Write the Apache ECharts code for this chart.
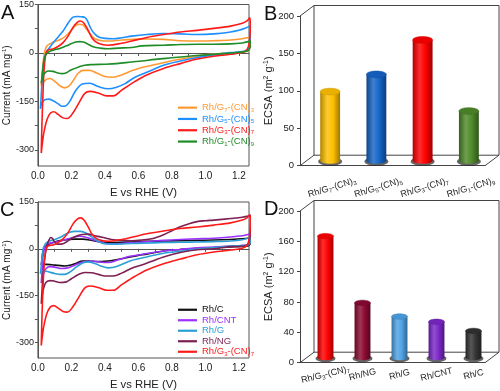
<!DOCTYPE html>
<html><head><meta charset="utf-8">
<script src="https://cdn.jsdelivr.net/npm/echarts@6/dist/echarts.min.js"></script>
<style>html,body{margin:0;padding:0;background:#fff}#c{width:500px;height:391px}</style>
</head><body><div id="c"></div>
<script>
// ---------- tick labels ----------
const cvXLabels = [0, 0.2, 0.4, 0.6, 0.8, 1.0, 1.2];
const cvXTicks = [0, 0.1, 0.2, 0.3, 0.4, 0.5, 0.6, 0.7, 0.8, 0.9, 1.0, 1.1, 1.2];
const cvYLabels = [-300, -150, 0, 150];
const cvYTicks = [-300, -225, -150, -75, 0, 75, 150];
const ecsaBTicks = [0, 50, 100, 150, 200];
const ecsaDTicks = [0, 40, 80, 120, 160, 200];

// ---------- panel A / C : CV loops [E (V), current (mA/mg)] ----------
const rhG7CN3 = [[0.02,-102],[0.025,-70],[0.03,-35],[0.037,-5],[0.045,12],[0.055,22],[0.07,28],[0.085,32],[0.11,37],[0.14,43],[0.17,54],[0.2,70],[0.225,85],[0.25,89],[0.27,86],[0.29,74],[0.31,60],[0.34,44],[0.38,38],[0.42,37],[0.5,40],[0.56,42],[0.65,43],[0.75,42],[0.85,38],[0.95,37],[1.05,38],[1.15,40],[1.22,44],[1.255,48],[1.268,50],
  [1.27,35],[1.265,15],[1.25,5],[1.2,1],[1.1,-2],[1.0,-6],[0.9,-15],[0.8,-24],[0.7,-36],[0.62,-45],[0.56,-55],[0.5,-68],[0.45,-75],[0.4,-73],[0.35,-62],[0.31,-54],[0.27,-54],[0.24,-63],[0.21,-86],[0.185,-103],[0.16,-108],[0.135,-103],[0.11,-92],[0.085,-82],[0.07,-79],[0.055,-81],[0.04,-86],[0.03,-93],[0.02,-102]];
const rhG5CN5 = [[0.015,-173],[0.02,-130],[0.025,-85],[0.032,-40],[0.04,-15],[0.05,3],[0.065,14],[0.08,24],[0.1,37],[0.125,52],[0.15,68],[0.17,84],[0.19,100],[0.21,111],[0.235,113],[0.26,112],[0.28,110],[0.295,100],[0.31,82],[0.33,64],[0.36,50],[0.4,45],[0.45,44],[0.5,47],[0.56,52],[0.65,57],[0.75,60],[0.85,59],[0.95,57],[1.05,59],[1.15,65],[1.2,70],[1.24,77],[1.265,83],
  [1.268,60],[1.262,25],[1.25,10],[1.22,4],[1.15,1],[1.05,-6],[0.95,-14],[0.85,-25],[0.75,-38],[0.65,-60],[0.58,-75],[0.52,-95],[0.47,-106],[0.42,-111],[0.36,-104],[0.31,-94],[0.265,-96],[0.225,-117],[0.19,-150],[0.165,-164],[0.145,-165],[0.12,-157],[0.09,-148],[0.065,-143],[0.045,-144],[0.03,-150],[0.02,-160],[0.015,-173]];
const rhG3CN7 = [[0.02,-310],[0.024,-220],[0.03,-130],[0.036,-60],[0.045,-10],[0.055,6],[0.07,11],[0.09,12],[0.12,20],[0.15,32],[0.18,52],[0.21,80],[0.235,95],[0.255,99],[0.275,92],[0.3,70],[0.325,45],[0.36,30],[0.42,24],[0.5,30],[0.56,37],[0.65,48],[0.75,57],[0.85,65],[0.95,70],[1.05,76],[1.15,83],[1.22,92],[1.25,100],[1.265,109],
  [1.268,85],[1.262,35],[1.25,12],[1.22,2],[1.15,-4],[1.05,-10],[0.95,-19],[0.85,-33],[0.75,-48],[0.65,-68],[0.58,-88],[0.5,-115],[0.45,-133],[0.41,-133],[0.36,-124],[0.31,-119],[0.28,-125],[0.25,-150],[0.21,-185],[0.175,-203],[0.15,-201],[0.12,-190],[0.095,-182],[0.075,-186],[0.055,-205],[0.04,-235],[0.03,-265],[0.02,-310]];
const rhG1CN9 = [[0.02,-94],[0.025,-70],[0.03,-45],[0.037,-20],[0.045,-8],[0.06,2],[0.08,7],[0.1,10],[0.13,14],[0.17,22],[0.2,29],[0.225,34],[0.25,35],[0.27,34],[0.3,27],[0.33,19],[0.37,15],[0.42,13],[0.48,15],[0.56,17],[0.62,22],[0.75,24],[0.85,26],[0.95,27],[1.05,27],[1.15,28],[1.22,31],[1.255,35],[1.268,38],
  [1.27,28],[1.262,12],[1.245,5],[1.2,2],[1.1,-2],[1.0,-6],[0.9,-10],[0.8,-15],[0.7,-20],[0.62,-25],[0.56,-28],[0.47,-33],[0.4,-35],[0.33,-36],[0.28,-38],[0.24,-44],[0.2,-52],[0.17,-61],[0.145,-64],[0.12,-62],[0.09,-57],[0.065,-56],[0.045,-60],[0.03,-72],[0.02,-94]];
const rhC = [[0.02,-52],[0.025,-30],[0.03,-10],[0.04,3],[0.05,10],[0.07,16],[0.1,22],[0.14,27],[0.18,30],[0.22,31],[0.27,31],[0.31,28],[0.36,23],[0.42,20],[0.5,21],[0.56,22],[0.65,24],[0.75,25],[0.85,26],[0.95,27],[1.05,28],[1.15,30],[1.22,32],[1.255,34],[1.268,36],
  [1.27,25],[1.262,12],[1.245,8],[1.2,7],[1.15,6],[1.05,4],[0.95,2],[0.85,-2],[0.75,-7],[0.65,-17],[0.6,-21],[0.55,-26],[0.46,-36],[0.4,-40],[0.36,-41],[0.3,-39],[0.265,-39],[0.23,-46],[0.19,-53],[0.16,-55],[0.12,-53],[0.08,-51],[0.05,-50],[0.03,-50],[0.02,-52]];
const rhCNT = [[0.02,-110],[0.025,-70],[0.03,-25],[0.04,2],[0.05,13],[0.07,18],[0.1,21],[0.14,26],[0.18,32],[0.22,38],[0.25,40],[0.28,38],[0.32,31],[0.37,22],[0.42,16],[0.5,17],[0.58,20],[0.66,23],[0.75,27],[0.85,30],[0.95,32],[1.05,34],[1.15,38],[1.22,42],[1.255,46],[1.268,49],
  [1.27,35],[1.262,18],[1.245,12],[1.2,10],[1.15,9],[1.05,6],[0.95,3],[0.85,-2],[0.75,-7],[0.65,-15],[0.6,-20],[0.55,-24],[0.48,-35],[0.42,-44],[0.38,-43],[0.33,-40],[0.28,-41],[0.24,-48],[0.2,-57],[0.17,-62],[0.14,-63],[0.11,-60],[0.08,-57],[0.06,-58],[0.045,-66],[0.035,-78],[0.025,-95],[0.02,-110]];
const rhG = [[0.015,-80],[0.02,-55],[0.025,-25],[0.032,2],[0.04,12],[0.05,19],[0.07,25],[0.1,30],[0.13,36],[0.16,45],[0.19,53],[0.22,56],[0.25,56],[0.28,52],[0.31,42],[0.34,31],[0.37,21],[0.4,16],[0.47,15],[0.56,17],[0.62,18],[0.75,20],[0.85,21],[0.95,22],[1.05,23],[1.15,25],[1.22,29],[1.255,35],[1.268,40],
  [1.27,28],[1.262,15],[1.245,11],[1.2,10],[1.15,9],[1.05,4],[0.95,-1],[0.85,-8],[0.75,-14],[0.65,-26],[0.6,-32],[0.55,-39],[0.47,-57],[0.42,-61],[0.38,-56],[0.34,-47],[0.3,-42],[0.27,-45],[0.23,-58],[0.19,-75],[0.16,-82],[0.13,-82],[0.1,-79],[0.07,-75],[0.05,-72],[0.035,-72],[0.025,-76],[0.015,-80]];
const rhNG = [[0.02,-176],[0.025,-130],[0.03,-90],[0.037,-45],[0.045,-15],[0.055,12],[0.065,27],[0.076,36],[0.087,33],[0.1,22],[0.115,15],[0.14,15],[0.17,22],[0.2,33],[0.235,42],[0.265,46],[0.3,47],[0.34,42],[0.39,36],[0.44,30],[0.5,27],[0.56,26],[0.62,28],[0.68,32],[0.75,45],[0.8,58],[0.85,71],[0.9,80],[0.95,87],[1.0,90],[1.05,92],[1.15,97],[1.22,101],[1.255,105],[1.268,107],
  [1.27,80],[1.265,35],[1.25,12],[1.22,8],[1.15,7],[1.05,0],[0.95,-3],[0.85,-12],[0.75,-26],[0.68,-40],[0.62,-52],[0.56,-62],[0.5,-78],[0.45,-87],[0.4,-87],[0.36,-82],[0.32,-77],[0.28,-76],[0.24,-83],[0.2,-96],[0.17,-106],[0.13,-108],[0.1,-104],[0.076,-102],[0.06,-103],[0.045,-110],[0.035,-125],[0.027,-145],[0.02,-176]];

// ---------- panel B / D : ECSA bars ----------
const ecsaBCats = ['Rh/G7-(CN)3', 'Rh/G5-(CN)5', 'Rh/G3-(CN)7', 'Rh/G1-(CN)9'];
const ecsaBVals = [92, 115, 161, 66];
const ecsaDCats = ['Rh/G3-(CN)7', 'Rh/NG', 'Rh/G', 'Rh/CNT', 'Rh/C'];
const ecsaDVals = [160, 72, 54, 47, 35];

// ---------- styling ----------
const F = '"Liberation Sans", Arial, sans-serif';
const colA = {'Rh/G7-(CN)3':'#FF9A33','Rh/G5-(CN)5':'#1E8FFF','Rh/G3-(CN)7':'#FF1A1A','Rh/G1-(CN)9':'#1F8C28'};
const colC = {'Rh/C':'#111111','Rh/CNT':'#9B30FF','Rh/G':'#2A9FD6','Rh/NG':'#7D1F52','Rh/G3-(CN)7':'#FF1A1A'};
const barColB = ['#FFC000', '#1565C8', '#FF0000', '#4F8A2A'];
const barColD = ['#FF0000', '#8B0A32', '#4FA3E6', '#7B28C8', '#333333'];
const DEPTH = [14, -10.5];
const AX = '#555';

function toRich(n) { return n.replace(/G(\d)-\(CN\)(\d)/, (m, a, b) => 'G{s|' + a + '}-(CN){s|' + b + '}'); }
function shade(hex, f) {
  const n = parseInt(hex.slice(1), 16);
  let r = n >> 16, g = (n >> 8) & 255, b = n & 255;
  if (f < 0) { r *= 1 + f; g *= 1 + f; b *= 1 + f; }
  else { r += (255 - r) * f; g += (255 - g) * f; b += (255 - b) * f; }
  return 'rgb(' + (r | 0) + ',' + (g | 0) + ',' + (b | 0) + ')';
}
const subRich = { s: { fontSize: 6, fontFamily: F, padding: [5, 0, 0, 0] } };

function cvXAxis(grid) {
  return { type: 'value', gridIndex: grid, min: 0, max: 1.26,
    name: 'E vs RHE (V)', nameLocation: 'middle', nameGap: 21,
    nameTextStyle: { fontSize: 11.3, fontFamily: F, color: '#222' },
    axisLine: { lineStyle: { color: AX } }, splitLine: { show: false },
    axisTick: { customValues: cvXTicks, length: 3, lineStyle: { color: AX } },
    axisLabel: { customValues: cvXLabels, formatter: v => v.toFixed(1), fontSize: 10, fontFamily: F, color: '#222', margin: 5 } };
}
function cvYAxis(grid) {
  return { type: 'value', gridIndex: grid, min: -350, max: 150,
    name: '{a|Current (mA mg}{p|-1}{a|)}', nameLocation: 'middle', nameGap: 22,
    nameTextStyle: { fontSize: 10, fontFamily: F, color: '#222', rich: { a: { fontSize: 10, fontFamily: F }, p: { fontSize: 6, fontFamily: F, padding: [0, 0, 6, 0] } } },
    axisLine: { lineStyle: { color: AX } }, splitLine: { show: false },
    axisTick: { customValues: cvYTicks, length: 3, lineStyle: { color: AX } },
    axisLabel: { customValues: cvYLabels, fontSize: 9, fontFamily: F, color: '#222', margin: 4 } };
}
function barXAxis(grid, cats) {
  return { type: 'category', gridIndex: grid, data: cats, axisLine: { lineStyle: { color: '#444' } },
    axisTick: { show: false }, axisLabel: { show: false } };
}
function barYAxis(grid, max, interval) {
  return { type: 'value', gridIndex: grid, min: 0, max: max, interval: interval,
    name: '{a|ECSA (m}{p|2}{a| g}{p|-1}{a|)}', nameLocation: 'middle', nameGap: 20,
    nameTextStyle: { fontSize: 11, fontFamily: F, color: '#222', rich: { a: { fontSize: 11, fontFamily: F }, p: { fontSize: 7, fontFamily: F, padding: [0, 0, 6, 0] } } },
    axisLine: { show: true, lineStyle: { color: '#444' } }, splitLine: { show: false },
    axisTick: { show: true, length: 3, lineStyle: { color: '#444' } },
    axisLabel: { fontSize: 9.5, fontFamily: F, color: '#222', margin: 6 } };
}
function frameRender(params, api) {
  const cs = params.coordSys, x = cs.x, y = cs.y, w = cs.width, h = cs.height, dx = DEPTH[0], dy = DEPTH[1];
  const st = { stroke: '#444', lineWidth: 1, fill: null };
  return { type: 'group', children: [
    { type: 'rect', shape: { x: x + dx, y: y + dy, width: w, height: h }, style: { stroke: '#444', lineWidth: 1, fill: null } },
    { type: 'line', shape: { x1: x, y1: y, x2: x + dx, y2: y + dy }, style: st },
    { type: 'line', shape: { x1: x, y1: y + h, x2: x + dx, y2: y + h + dy }, style: st },
    { type: 'line', shape: { x1: x + w, y1: y + h, x2: x + w + dx, y2: y + h + dy }, style: st }
  ] };
}
function makeCyl(colors, cats, ldx, ldy, rot) {
  return function (params, api) {
    const i = params.dataIndex;
    const top = api.coord([api.value(0), api.value(1)]);
    const base = api.coord([api.value(0), 0]);
    const band = api.size([1, 0])[0];
    const w = band * 0.43, ry = w * 0.17;
    const cx = top[0] + DEPTH[0] / 2, ty = top[1] + DEPTH[1] / 2, by = base[1] + DEPTH[1] / 2;
    const c = colors[i];
    const grad = new echarts.graphic.LinearGradient(0, 0, 1, 0, [
      { offset: 0, color: shade(c, -0.3) }, { offset: 0.35, color: shade(c, 0.18) },
      { offset: 0.65, color: c }, { offset: 1, color: shade(c, -0.38) }]);
    return { type: 'group', children: [
      { type: 'ellipse', shape: { cx: cx, cy: by + 1, rx: w / 2 + 2, ry: ry + 1 }, style: { fill: 'rgba(35,35,35,0.7)' } },
      { type: 'ellipse', shape: { cx: cx, cy: by, rx: w / 2, ry: ry }, style: { fill: grad } },
      { type: 'rect', shape: { x: cx - w / 2, y: ty, width: w, height: by - ty }, style: { fill: grad } },
      { type: 'ellipse', shape: { cx: cx, cy: ty, rx: w / 2, ry: ry }, style: { fill: shade(c, -0.08), stroke: shade(c, -0.2), lineWidth: 0.5 } },
      { type: 'text', x: base[0] + ldx, y: base[1] + ldy, rotation: rot * Math.PI / 180,
        style: { text: toRich(cats[i]), rich: subRich, fill: '#222', fontSize: 9, fontFamily: F, align: 'center', verticalAlign: 'middle' } }
    ] };
  };
}
function cvSeries(name, data, color, gi) {
  return { type: 'line', name: name, data: data, xAxisIndex: gi, yAxisIndex: gi, symbol: 'none', smooth: 0.35,
    lineStyle: { color: color, width: 1.6 }, itemStyle: { color: color }, z: 3 };
}
function legendCfg(cols, top, lh) {
  return { orient: 'vertical', left: 178, top: top, icon: 'rect', itemWidth: 19, itemHeight: 2.2, itemGap: 0, padding: 0,
    formatter: toRich, textStyle: { fontSize: 9.5, fontFamily: F, lineHeight: lh, rich: subRich },
    data: Object.keys(cols).map(n => ({ name: n, textStyle: { color: cols[n] } })) };
}

const chart = echarts.init(document.getElementById('c'), null, { renderer: 'canvas' });
chart.setOption({
  animation: false,
  backgroundColor: '#fff',
  grid: [
    { left: 35, top: 4, width: 214, height: 162, show: true, borderColor: AX, borderWidth: 1 },
    { left: 300, top: 16, width: 185, height: 149.7 },
    { left: 35, top: 202, width: 214, height: 161, show: true, borderColor: AX, borderWidth: 1 },
    { left: 300, top: 211, width: 185, height: 151.7 }
  ],
  xAxis: [cvXAxis(0), barXAxis(1, ecsaBCats), cvXAxis(2), barXAxis(3, ecsaDCats)],
  yAxis: [cvYAxis(0), barYAxis(1, 200, 50), cvYAxis(2), barYAxis(3, 200, 40)],
  legend: [legendCfg(colA, 102, 11.3), legendCfg(colC, 304.5, 10.5)],
  graphic: [
    { type: 'text', left: 1, top: 3, style: { text: 'A', fontSize: 20, fontFamily: F, fill: '#111' } },
    { type: 'text', left: 264, top: 4.5, style: { text: 'B', fontSize: 20, fontFamily: F, fill: '#111' } },
    { type: 'text', left: 0, top: 200.5, style: { text: 'C', fontSize: 20, fontFamily: F, fill: '#111' } },
    { type: 'text', left: 264, top: 199.5, style: { text: 'D', fontSize: 20, fontFamily: F, fill: '#111' } }
  ],
  series: [
    cvSeries('Rh/G7-(CN)3', rhG7CN3, colA['Rh/G7-(CN)3'], 0),
    cvSeries('Rh/G5-(CN)5', rhG5CN5, colA['Rh/G5-(CN)5'], 0),
    cvSeries('Rh/G3-(CN)7', rhG3CN7, colA['Rh/G3-(CN)7'], 0),
    cvSeries('Rh/G1-(CN)9', rhG1CN9, colA['Rh/G1-(CN)9'], 0),
    cvSeries('Rh/C', rhC, colC['Rh/C'], 2),
    cvSeries('Rh/CNT', rhCNT, colC['Rh/CNT'], 2),
    cvSeries('Rh/G', rhG, colC['Rh/G'], 2),
    cvSeries('Rh/NG', rhNG, colC['Rh/NG'], 2),
    cvSeries('Rh/G3-(CN)7', rhG3CN7, colC['Rh/G3-(CN)7'], 2),
    { type: 'custom', xAxisIndex: 1, yAxisIndex: 1, data: [[0, 0]], renderItem: frameRender, z: 1, silent: true },
    { type: 'custom', xAxisIndex: 3, yAxisIndex: 3, data: [[0, 0]], renderItem: frameRender, z: 1, silent: true },
    { type: 'custom', xAxisIndex: 1, yAxisIndex: 1, data: ecsaBVals.map((v, i) => [i, v]), encode: { x: 0, y: 1 },
      renderItem: makeCyl(barColB, ecsaBCats, 9, 22, 17), clip: false, z: 4 },
    { type: 'custom', xAxisIndex: 3, yAxisIndex: 3, data: ecsaDVals.map((v, i) => [i, v]), encode: { x: 0, y: 1 },
      renderItem: makeCyl(barColD, ecsaDCats, 7, 12, 14), clip: false, z: 4 }
  ]
});
</script></body></html>
